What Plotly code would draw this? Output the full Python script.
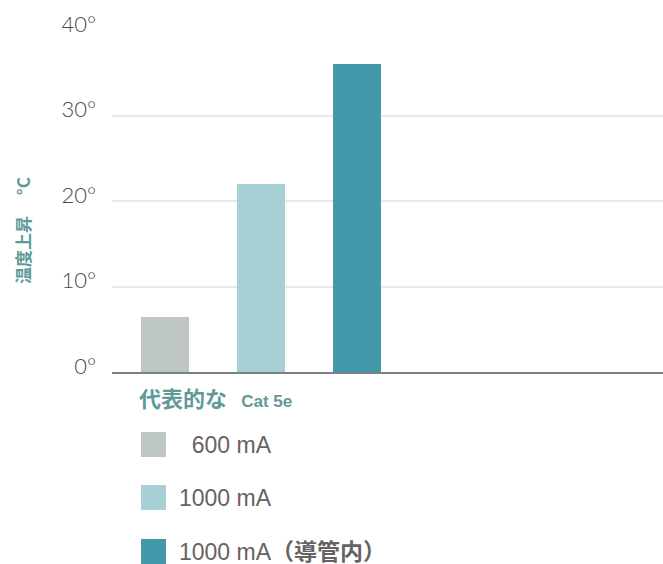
import re
import plotly.graph_objects as go

# ---- data ----
series_names = ["\u00a0\u00a0600 mA", "1000 mA", "1000 mA（導管内）"]
values = [6.4, 22.0, 36.0]
colors = ["#bec6c5", "#a6d0d5", "#4399aa"]
positions = [0, 1, 2]
y_ticks = [0, 10, 20, 30, 40]
y_tick_labels = ["0°", "10°", "20°", "30°", "40°"]
legend_title_cjk = "代表的な"
legend_title_latin = "Cat 5e"
axis_title = "温度上昇\u3000\u00a0°C"

W, H = 663, 564
L, R, T, B = 112, 0, 30, 192
plot_w = W - L - R
plot_h = H - T - B

def px(x):
    return (x - L) / plot_w

def py(y):
    return (H - B - y) / plot_h

def bold_cjk(s):
    return re.sub(r"([\u3000-\u9fff\uff00-\uffef]+)", r"<b>\1</b>", s)

fig = go.Figure()
for pos, v, c, n in zip(positions, values, colors, series_names):
    fig.add_trace(go.Bar(x=[pos], y=[v], marker=dict(color=c, line=dict(width=0)),
                         width=0.5, name=n, showlegend=False))

# manual legend
teal = "#5f9a97"
fig.add_annotation(x=px(137), y=py(399), xref="paper", yref="paper",
                   text="<span style='font-size:22px'>" + legend_title_cjk + "</span>\u00a0\u00a0\u00a0" + legend_title_latin,
                   showarrow=False, xanchor="left", yanchor="middle",
                   font=dict(family="Liberation Sans, Arial, Noto Sans CJK JP", size=17,
                             color=teal, weight="bold"))
sq_top = [432, 485, 539]
for top, c, n in zip(sq_top, colors, series_names):
    fig.add_shape(type="rect", xref="paper", yref="paper",
                  x0=px(141), x1=px(166), y0=py(top), y1=py(top + 25),
                  fillcolor=c, line=dict(width=0))
    fig.add_annotation(x=px(177), y=py(top + 13), xref="paper", yref="paper", text=bold_cjk(n),
                       showarrow=False, xanchor="left", yanchor="middle",
                       font=dict(family="Liberation Sans, Arial, Noto Sans CJK JP", size=23,
                                 color="#676262"))

# rotated axis title
fig.add_annotation(x=px(22), y=py(231), xref="paper", yref="paper", text=axis_title,
                   showarrow=False, textangle=-90, xanchor="center", yanchor="middle",
                   font=dict(family="Noto Sans CJK JP", size=17, color=teal, weight="bold"))

fig.update_layout(
    width=W, height=H,
    margin=dict(l=L, r=R, t=T, b=B, pad=0),
    paper_bgcolor="white", plot_bgcolor="white",
    bargap=0,
    xaxis=dict(range=[-0.552, 5.1875], showticklabels=False, showgrid=False,
               zeroline=False, showline=True, linecolor="#7c8283", linewidth=2,
               ticks=""),
    yaxis=dict(range=[0, 40], tickvals=y_ticks, ticktext=y_tick_labels,
               showgrid=True, gridcolor="#e9e9e9", gridwidth=1.5, zeroline=False,
               ticks="", ticklabelstandoff=15, ticklabelshift=-6,
               tickfont=dict(family="Lato", size=22, color="#4a4a4a", weight=300)),
    font=dict(family="Lato"),
)

fig.write_html("out.html")
